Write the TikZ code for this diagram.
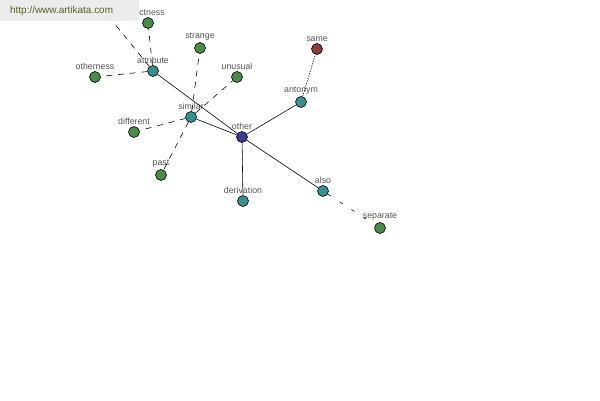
\documentclass[tikz,border=0pt]{standalone}
\usepackage{fontspec}
\setmainfont{Liberation Sans}
\usepackage{tikz}

\definecolor{vgreen}{RGB}{74,138,74}
\definecolor{vteal}{RGB}{58,144,144}
\definecolor{vblue}{RGB}{60,60,150}
\definecolor{vred}{RGB}{140,58,58}
\definecolor{lblgray}{RGB}{85,85,85}

\tikzset{
  word/.style={circle, draw=black, line width=0.5pt, minimum size=0.33cm, inner sep=0pt},
  lbl/.style={font=\fontsize{7.5}{8}\selectfont, text=lblgray, inner sep=1pt},
  rel/.style={line width=0.5pt},
  near/.style={line width=0.5pt, dash pattern=on 5pt off 5pt},
  far/.style={line width=0.5pt, dash pattern=on 3pt off 9pt},
  dots/.style={line width=0.6pt, dash pattern=on 1pt off 1.2pt}
}

\begin{document}
\begin{tikzpicture}[x=0.03cm, y=-0.03cm]
        \useasboundingbox[fill=white] (0,0) rectangle (600,400);
        \clip (0,0) rectangle (600,400);

        % Các nút
        \node[word, fill=vblue, label={[lbl]above:other}] (other) at (242,137) {};
        \node[word, fill=vteal, label={[lbl]above:attribute}] (attribute) at (153,71) {};
        \node[word, fill=vteal, label={[lbl]above:similar}] (similar) at (191,117) {};
        \node[word, fill=vteal, label={[lbl]above:antonym}] (antonym) at (301,102) {};
        \node[word, fill=vteal, label={[lbl]above:also}] (also) at (323,191) {};
        \node[word, fill=vteal, label={[lbl]above:derivation}] (derivation) at (243,201) {};
        \node[word, fill=vred, label={[lbl]above:same}] (same) at (317,49) {};
        \node[word, fill=vgreen, label={[lbl]above:unusual}] (unusual) at (237,77) {};
        \node[word, fill=vgreen, label={[lbl]above:strange}] (strange) at (200,48) {};
        \node[word, fill=vgreen, label={[lbl]above:otherness}] (otherness) at (95,77) {};
        \node[word, fill=vgreen, label={[lbl]above:different}] (different) at (134,132) {};
        \node[word, fill=vgreen, label={[lbl]above:past}] (past) at (161,175) {};
        \node[word, fill=vgreen, label={[lbl]above:separate}] (separate) at (380,228) {};
        \node[word, fill=vgreen, label={[lbl, xshift=0.12cm]above:ctness}] (ctness) at (148,23) {};
        \coordinate (hidden) at (92,-4);

        % Các cạnh
        \draw[rel] (other) -- (attribute);
        \draw[rel] (other) -- (similar);
        \draw[rel] (other) -- (antonym);
        \draw[rel] (other) -- (also);
        \draw[rel] (other) -- (derivation);
        \draw[dots] (antonym) -- (same);
        \draw[far] (also) -- (separate);
        \draw[near] (attribute) -- (ctness);
        \draw[near] (attribute) -- (otherness);
        \draw[near] (attribute) -- (hidden);
        \draw[near] (similar) -- (strange);
        \draw[near] (similar) -- (unusual);
        \draw[near] (similar) -- (different);
        \draw[near] (similar) -- (past);

        % Dòng chữ trang web
        \fill[gray!15] (0,0) rectangle (139,21);
        \node[font=\fontsize{8.5}{9}\selectfont, text={rgb,255:red,80;green,100;blue,30}, anchor=west] (site) at (6,11) {http://www.artikata.com};
\end{tikzpicture}
\end{document}
